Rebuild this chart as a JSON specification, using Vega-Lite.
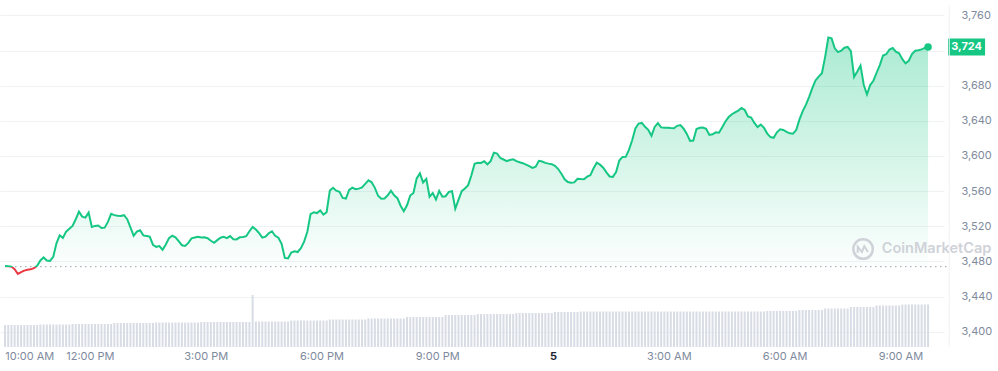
{
"$schema": "https://vega.github.io/schema/vega-lite/v6.json",
"width": 944,
"height": 342,
"autosize": {"type": "none"},
"padding": {"left": 0, "top": 5, "right": 54, "bottom": 24},
"background": "white",
"config": {"view": {"stroke": null}, "font": "Inter"},
"data": {"values": [
{"t":"2024-03-04T09:48","p":3474.7,"v":22},{"t":"2024-03-04T09:53","p":3474.4,"v":22},{"t":"2024-03-04T09:58","p":3474.1,"v":22},
{"t":"2024-03-04T10:03","p":3471.1,"v":22},{"t":"2024-03-04T10:08","p":3465.7,"v":22},{"t":"2024-03-04T10:13","p":3467.8,"v":22},{"t":"2024-03-04T10:18","p":3469.5,"v":22},{"t":"2024-03-04T10:23","p":3470.5,"v":22},{"t":"2024-03-04T10:28","p":3471,"v":22},{"t":"2024-03-04T10:33","p":3472.4,"v":22},{"t":"2024-03-04T10:38","p":3475,"v":22},{"t":"2024-03-04T10:43","p":3481.1,"v":22.5},{"t":"2024-03-04T10:48","p":3484.5,"v":22.5},{"t":"2024-03-04T10:53","p":3481,"v":22.5},{"t":"2024-03-04T10:58","p":3480.6,"v":22.5},
{"t":"2024-03-04T11:03","p":3485.2,"v":22.5},{"t":"2024-03-04T11:08","p":3500.6,"v":22.5},{"t":"2024-03-04T11:13","p":3509.7,"v":22.5},{"t":"2024-03-04T11:18","p":3506.8,"v":22.5},{"t":"2024-03-04T11:23","p":3513.9,"v":22.5},{"t":"2024-03-04T11:28","p":3517.1,"v":22.5},{"t":"2024-03-04T11:33","p":3520.4,"v":23},{"t":"2024-03-04T11:38","p":3528,"v":23},{"t":"2024-03-04T11:43","p":3536.6,"v":23},{"t":"2024-03-04T11:48","p":3531,"v":23},{"t":"2024-03-04T11:53","p":3529.8,"v":23},{"t":"2024-03-04T11:58","p":3535.5,"v":23},
{"t":"2024-03-04T12:03","p":3519.2,"v":23},{"t":"2024-03-04T12:08","p":3520.4,"v":23},{"t":"2024-03-04T12:13","p":3520.8,"v":23},{"t":"2024-03-04T12:18","p":3518.1,"v":23},{"t":"2024-03-04T12:23","p":3518.4,"v":23},{"t":"2024-03-04T12:28","p":3525,"v":23},{"t":"2024-03-04T12:33","p":3534.2,"v":23},{"t":"2024-03-04T12:38","p":3532.7,"v":24},{"t":"2024-03-04T12:43","p":3531.9,"v":24},{"t":"2024-03-04T12:48","p":3531.6,"v":24},{"t":"2024-03-04T12:53","p":3532.6,"v":24},{"t":"2024-03-04T12:58","p":3528,"v":24},
{"t":"2024-03-04T13:03","p":3518.8,"v":24},{"t":"2024-03-04T13:08","p":3509.2,"v":24},{"t":"2024-03-04T13:13","p":3513.9,"v":24},{"t":"2024-03-04T13:18","p":3515.5,"v":24},{"t":"2024-03-04T13:23","p":3509.6,"v":24},{"t":"2024-03-04T13:28","p":3509,"v":24},{"t":"2024-03-04T13:33","p":3508.2,"v":24},{"t":"2024-03-04T13:38","p":3499,"v":24},{"t":"2024-03-04T13:43","p":3496.6,"v":24.5},{"t":"2024-03-04T13:48","p":3497.4,"v":24.5},{"t":"2024-03-04T13:53","p":3493.3,"v":24.5},{"t":"2024-03-04T13:58","p":3499.2,"v":24.5},
{"t":"2024-03-04T14:03","p":3506.5,"v":24.5},{"t":"2024-03-04T14:08","p":3509.2,"v":24.5},{"t":"2024-03-04T14:13","p":3507.5,"v":24.5},{"t":"2024-03-04T14:18","p":3503,"v":24.5},{"t":"2024-03-04T14:23","p":3498.4,"v":24.5},{"t":"2024-03-04T14:28","p":3497.7,"v":24.5},{"t":"2024-03-04T14:33","p":3501.1,"v":24.5},{"t":"2024-03-04T14:38","p":3506.3,"v":24.5},{"t":"2024-03-04T14:43","p":3507.2,"v":24.5},{"t":"2024-03-04T14:48","p":3508,"v":24.5},{"t":"2024-03-04T14:53","p":3507.3,"v":25},{"t":"2024-03-04T14:58","p":3507.5,"v":25},
{"t":"2024-03-04T15:03","p":3506.4,"v":25},{"t":"2024-03-04T15:08","p":3503.5,"v":25},{"t":"2024-03-04T15:13","p":3501.1,"v":25},{"t":"2024-03-04T15:18","p":3504.2,"v":25},{"t":"2024-03-04T15:23","p":3506.9,"v":25},{"t":"2024-03-04T15:28","p":3508,"v":25},{"t":"2024-03-04T15:33","p":3506.5,"v":25},{"t":"2024-03-04T15:38","p":3508.8,"v":25},{"t":"2024-03-04T15:43","p":3505.3,"v":25},{"t":"2024-03-04T15:48","p":3505,"v":25},{"t":"2024-03-04T15:53","p":3507.4,"v":25},{"t":"2024-03-04T15:58","p":3507.7,"v":25},
{"t":"2024-03-04T16:03","p":3508.7,"v":25},{"t":"2024-03-04T16:08","p":3514.3,"v":25},{"t":"2024-03-04T16:13","p":3519.3,"v":52},{"t":"2024-03-04T16:18","p":3516.3,"v":25.5},{"t":"2024-03-04T16:23","p":3512.2,"v":25.5},{"t":"2024-03-04T16:28","p":3507.1,"v":25.5},{"t":"2024-03-04T16:33","p":3508.2,"v":25.5},{"t":"2024-03-04T16:38","p":3512.1,"v":25.5},{"t":"2024-03-04T16:43","p":3514.3,"v":25.5},{"t":"2024-03-04T16:48","p":3509.2,"v":25.5},{"t":"2024-03-04T16:53","p":3506.9,"v":25.5},{"t":"2024-03-04T16:58","p":3500,"v":25.5},
{"t":"2024-03-04T17:03","p":3484,"v":25.5},{"t":"2024-03-04T17:08","p":3483.5,"v":25.5},{"t":"2024-03-04T17:13","p":3490,"v":26.5},{"t":"2024-03-04T17:18","p":3491.6,"v":26.5},{"t":"2024-03-04T17:23","p":3490.7,"v":26.5},{"t":"2024-03-04T17:28","p":3495,"v":26.5},{"t":"2024-03-04T17:33","p":3502.5,"v":26.5},{"t":"2024-03-04T17:38","p":3513.8,"v":26.5},{"t":"2024-03-04T17:43","p":3533.9,"v":26.5},{"t":"2024-03-04T17:48","p":3536,"v":26.5},{"t":"2024-03-04T17:53","p":3535,"v":26.5},{"t":"2024-03-04T17:58","p":3538,"v":26.5},
{"t":"2024-03-04T18:03","p":3533.3,"v":26.5},{"t":"2024-03-04T18:08","p":3536,"v":26.5},{"t":"2024-03-04T18:13","p":3560.6,"v":27.5},{"t":"2024-03-04T18:18","p":3563.8,"v":27.5},{"t":"2024-03-04T18:23","p":3560.5,"v":27.5},{"t":"2024-03-04T18:28","p":3559.3,"v":27.5},{"t":"2024-03-04T18:33","p":3552.3,"v":27.5},{"t":"2024-03-04T18:38","p":3551.5,"v":27.5},{"t":"2024-03-04T18:43","p":3561.4,"v":27.5},{"t":"2024-03-04T18:48","p":3564,"v":27.5},{"t":"2024-03-04T18:53","p":3562.2,"v":27.5},{"t":"2024-03-04T18:58","p":3562.8,"v":27.5},
{"t":"2024-03-04T19:03","p":3564.2,"v":27.5},{"t":"2024-03-04T19:08","p":3568.3,"v":27.5},{"t":"2024-03-04T19:13","p":3572.4,"v":28.5},{"t":"2024-03-04T19:18","p":3570,"v":28.5},{"t":"2024-03-04T19:23","p":3563.7,"v":28.5},{"t":"2024-03-04T19:28","p":3554.7,"v":28.5},{"t":"2024-03-04T19:33","p":3551.4,"v":28.5},{"t":"2024-03-04T19:38","p":3551.6,"v":28.5},{"t":"2024-03-04T19:43","p":3555.3,"v":28.5},{"t":"2024-03-04T19:48","p":3560.4,"v":28.5},{"t":"2024-03-04T19:53","p":3555.3,"v":28.5},{"t":"2024-03-04T19:58","p":3552,"v":28.5},
{"t":"2024-03-04T20:03","p":3543.4,"v":28.5},{"t":"2024-03-04T20:08","p":3537.1,"v":28.5},{"t":"2024-03-04T20:13","p":3543.8,"v":30},{"t":"2024-03-04T20:18","p":3555,"v":30},{"t":"2024-03-04T20:23","p":3557.8,"v":30},{"t":"2024-03-04T20:28","p":3574.5,"v":30},{"t":"2024-03-04T20:33","p":3580.2,"v":30},{"t":"2024-03-04T20:38","p":3569.8,"v":30},{"t":"2024-03-04T20:43","p":3573.9,"v":30},{"t":"2024-03-04T20:48","p":3553.6,"v":30},{"t":"2024-03-04T20:53","p":3557.7,"v":30},{"t":"2024-03-04T20:58","p":3550.4,"v":30},
{"t":"2024-03-04T21:03","p":3560.2,"v":30},{"t":"2024-03-04T21:08","p":3553.7,"v":30},{"t":"2024-03-04T21:13","p":3554.2,"v":32},{"t":"2024-03-04T21:18","p":3559.1,"v":32},{"t":"2024-03-04T21:23","p":3560,"v":32},{"t":"2024-03-04T21:28","p":3540,"v":32},{"t":"2024-03-04T21:33","p":3550,"v":32},{"t":"2024-03-04T21:38","p":3560,"v":32},{"t":"2024-03-04T21:43","p":3563,"v":32},{"t":"2024-03-04T21:48","p":3566.8,"v":32},{"t":"2024-03-04T21:53","p":3577.7,"v":32},{"t":"2024-03-04T21:58","p":3591.1,"v":32},
{"t":"2024-03-04T22:03","p":3592.2,"v":33},{"t":"2024-03-04T22:08","p":3592,"v":33},{"t":"2024-03-04T22:13","p":3594,"v":33},{"t":"2024-03-04T22:18","p":3590.5,"v":33},{"t":"2024-03-04T22:23","p":3594.1,"v":33},{"t":"2024-03-04T22:28","p":3603.8,"v":33},{"t":"2024-03-04T22:33","p":3602.8,"v":33},{"t":"2024-03-04T22:38","p":3597.7,"v":33},{"t":"2024-03-04T22:43","p":3596,"v":33},{"t":"2024-03-04T22:48","p":3594.2,"v":33},{"t":"2024-03-04T22:53","p":3595.4,"v":33},{"t":"2024-03-04T22:58","p":3596.2,"v":33},
{"t":"2024-03-04T23:03","p":3594.2,"v":34},{"t":"2024-03-04T23:08","p":3592.8,"v":34},{"t":"2024-03-04T23:13","p":3591.8,"v":34},{"t":"2024-03-04T23:18","p":3590.2,"v":34},{"t":"2024-03-04T23:23","p":3588.4,"v":34},{"t":"2024-03-04T23:28","p":3586.4,"v":34},{"t":"2024-03-04T23:33","p":3587.7,"v":34},{"t":"2024-03-04T23:38","p":3594.4,"v":34},{"t":"2024-03-04T23:43","p":3593.7,"v":34},{"t":"2024-03-04T23:48","p":3592.1,"v":34},{"t":"2024-03-04T23:53","p":3591.3,"v":34},{"t":"2024-03-04T23:58","p":3590.6,"v":34},
{"t":"2024-03-05T00:03","p":3588.8,"v":35},{"t":"2024-03-05T00:08","p":3585.1,"v":35},{"t":"2024-03-05T00:13","p":3579.7,"v":35},{"t":"2024-03-05T00:18","p":3573.5,"v":35},{"t":"2024-03-05T00:23","p":3570.3,"v":35},{"t":"2024-03-05T00:28","p":3569.5,"v":35},{"t":"2024-03-05T00:33","p":3569.9,"v":35},{"t":"2024-03-05T00:38","p":3574,"v":35},{"t":"2024-03-05T00:43","p":3573.7,"v":35.5},{"t":"2024-03-05T00:48","p":3573.6,"v":35.5},{"t":"2024-03-05T00:53","p":3576.5,"v":35.5},{"t":"2024-03-05T00:58","p":3578,"v":35.5},
{"t":"2024-03-05T01:03","p":3586,"v":35.5},{"t":"2024-03-05T01:08","p":3592.3,"v":35.5},{"t":"2024-03-05T01:13","p":3590.1,"v":35.5},{"t":"2024-03-05T01:18","p":3586.7,"v":35.5},{"t":"2024-03-05T01:23","p":3581.3,"v":35.5},{"t":"2024-03-05T01:28","p":3576.7,"v":35.5},{"t":"2024-03-05T01:33","p":3576.2,"v":35.5},{"t":"2024-03-05T01:38","p":3581.6,"v":35.5},{"t":"2024-03-05T01:43","p":3594.8,"v":35.5},{"t":"2024-03-05T01:48","p":3598.9,"v":35.5},{"t":"2024-03-05T01:53","p":3599,"v":35.5},{"t":"2024-03-05T01:58","p":3606.9,"v":35.5},
{"t":"2024-03-05T02:03","p":3617.8,"v":35.5},{"t":"2024-03-05T02:08","p":3631.4,"v":35.5},{"t":"2024-03-05T02:13","p":3636.9,"v":35.5},{"t":"2024-03-05T02:18","p":3637.6,"v":35.5},{"t":"2024-03-05T02:23","p":3633.2,"v":35.5},{"t":"2024-03-05T02:28","p":3629.7,"v":35.5},{"t":"2024-03-05T02:33","p":3622.9,"v":35.5},{"t":"2024-03-05T02:38","p":3633,"v":35.5},{"t":"2024-03-05T02:43","p":3637.3,"v":35.5},{"t":"2024-03-05T02:48","p":3632.5,"v":35.5},{"t":"2024-03-05T02:53","p":3632.2,"v":35.5},{"t":"2024-03-05T02:58","p":3632.1,"v":35.5},
{"t":"2024-03-05T03:03","p":3631.7,"v":35.5},{"t":"2024-03-05T03:08","p":3631.5,"v":35.5},{"t":"2024-03-05T03:13","p":3634.3,"v":35.5},{"t":"2024-03-05T03:18","p":3635.1,"v":35.5},{"t":"2024-03-05T03:23","p":3631,"v":35.5},{"t":"2024-03-05T03:28","p":3625.1,"v":35.5},{"t":"2024-03-05T03:33","p":3617,"v":35.5},{"t":"2024-03-05T03:38","p":3617.5,"v":35.5},{"t":"2024-03-05T03:43","p":3630.6,"v":35.5},{"t":"2024-03-05T03:48","p":3632.1,"v":35.5},{"t":"2024-03-05T03:53","p":3632.4,"v":35.5},{"t":"2024-03-05T03:58","p":3631,"v":35.5},
{"t":"2024-03-05T04:03","p":3624,"v":35.5},{"t":"2024-03-05T04:08","p":3624.6,"v":35.5},{"t":"2024-03-05T04:13","p":3626.9,"v":35.5},{"t":"2024-03-05T04:18","p":3626.5,"v":35.5},{"t":"2024-03-05T04:23","p":3632.7,"v":35.5},{"t":"2024-03-05T04:28","p":3639.3,"v":35.5},{"t":"2024-03-05T04:33","p":3644.3,"v":35.5},{"t":"2024-03-05T04:38","p":3647.5,"v":35.5},{"t":"2024-03-05T04:43","p":3649.7,"v":35.5},{"t":"2024-03-05T04:48","p":3651.7,"v":35.5},{"t":"2024-03-05T04:53","p":3654.5,"v":35.5},{"t":"2024-03-05T04:58","p":3652.3,"v":35.5},
{"t":"2024-03-05T05:03","p":3644.9,"v":35.5},{"t":"2024-03-05T05:08","p":3643.8,"v":35.5},{"t":"2024-03-05T05:13","p":3637.6,"v":35.5},{"t":"2024-03-05T05:18","p":3632.8,"v":35.5},{"t":"2024-03-05T05:23","p":3635.8,"v":35.5},{"t":"2024-03-05T05:28","p":3631.9,"v":35.5},{"t":"2024-03-05T05:33","p":3625.5,"v":36},{"t":"2024-03-05T05:38","p":3621.5,"v":36},{"t":"2024-03-05T05:43","p":3620.7,"v":36},{"t":"2024-03-05T05:48","p":3626.9,"v":36},{"t":"2024-03-05T05:53","p":3630.4,"v":36},{"t":"2024-03-05T05:58","p":3629.6,"v":36},
{"t":"2024-03-05T06:03","p":3627.5,"v":36},{"t":"2024-03-05T06:08","p":3625.8,"v":36},{"t":"2024-03-05T06:13","p":3625.3,"v":36},{"t":"2024-03-05T06:18","p":3629.5,"v":36},{"t":"2024-03-05T06:23","p":3641.4,"v":37},{"t":"2024-03-05T06:28","p":3650.8,"v":37},{"t":"2024-03-05T06:33","p":3658.2,"v":37},{"t":"2024-03-05T06:38","p":3667,"v":37},{"t":"2024-03-05T06:43","p":3677.1,"v":37},{"t":"2024-03-05T06:48","p":3685.9,"v":37},{"t":"2024-03-05T06:53","p":3690.3,"v":37},{"t":"2024-03-05T06:58","p":3694.2,"v":37},
{"t":"2024-03-05T07:03","p":3712.8,"v":38.5},{"t":"2024-03-05T07:08","p":3734.7,"v":38.5},{"t":"2024-03-05T07:13","p":3733.8,"v":38.5},{"t":"2024-03-05T07:18","p":3722.5,"v":38.5},{"t":"2024-03-05T07:23","p":3718.2,"v":38.5},{"t":"2024-03-05T07:28","p":3719.8,"v":38.5},{"t":"2024-03-05T07:33","p":3723.2,"v":38.5},{"t":"2024-03-05T07:38","p":3724.1,"v":38.5},{"t":"2024-03-05T07:43","p":3719.2,"v":40},{"t":"2024-03-05T07:48","p":3690,"v":40},{"t":"2024-03-05T07:53","p":3696.1,"v":40},{"t":"2024-03-05T07:58","p":3703,"v":40},
{"t":"2024-03-05T08:03","p":3681,"v":40},{"t":"2024-03-05T08:08","p":3670,"v":40},{"t":"2024-03-05T08:13","p":3680.7,"v":40},{"t":"2024-03-05T08:18","p":3685.6,"v":40},{"t":"2024-03-05T08:23","p":3694.7,"v":41.5},{"t":"2024-03-05T08:28","p":3703.4,"v":41.5},{"t":"2024-03-05T08:33","p":3714.3,"v":41.5},{"t":"2024-03-05T08:38","p":3715.8,"v":41.5},{"t":"2024-03-05T08:43","p":3721.2,"v":41.5},{"t":"2024-03-05T08:48","p":3722.8,"v":41.5},{"t":"2024-03-05T08:53","p":3718.6,"v":41.5},{"t":"2024-03-05T08:58","p":3716.8,"v":41.5},
{"t":"2024-03-05T09:03","p":3710.2,"v":42.5},{"t":"2024-03-05T09:08","p":3705.4,"v":42.5},{"t":"2024-03-05T09:13","p":3708.3,"v":42.5},{"t":"2024-03-05T09:18","p":3715.9,"v":42.5},{"t":"2024-03-05T09:23","p":3719.7,"v":42.5},{"t":"2024-03-05T09:28","p":3720.3,"v":42.5},{"t":"2024-03-05T09:33","p":3721.3,"v":42.5},{"t":"2024-03-05T09:38","p":3723,"v":42.5},{"t":"2024-03-05T09:43","p":3724,"v":42.5}
]},
"encoding": {
  "x": {
    "field": "t", "type": "temporal",
    "scale": {"domain": [{"year": 2024, "month": 3, "date": 4, "hours": 9, "minutes": 48}, {"year": 2024, "month": 3, "date": 5, "hours": 10, "minutes": 0}]},
    "axis": {
      "title": null, "domain": false, "ticks": false, "grid": false,
      "values": [
        {"year": 2024, "month": 3, "date": 4, "hours": 10},
        {"year": 2024, "month": 3, "date": 4, "hours": 12},
        {"year": 2024, "month": 3, "date": 4, "hours": 15},
        {"year": 2024, "month": 3, "date": 4, "hours": 18},
        {"year": 2024, "month": 3, "date": 4, "hours": 21},
        {"year": 2024, "month": 3, "date": 5, "hours": 0},
        {"year": 2024, "month": 3, "date": 5, "hours": 3},
        {"year": 2024, "month": 3, "date": 5, "hours": 6},
        {"year": 2024, "month": 3, "date": 5, "hours": 9}
      ],
      "labelExpr": "hours(datum.value) == 0 ? timeFormat(datum.value, '%-d') : timeFormat(datum.value, '%-I:%M %p')",
      "labelFontSize": 11,
      "labelColor": {"condition": {"test": "hours(datum.value) == 0", "value": "#222531"}, "value": "#808a9d"},
      "labelFontWeight": {"condition": {"test": "hours(datum.value) == 0", "value": "bold"}, "value": "normal"},
      "labelAlign": {"condition": {"test": "hours(datum.value) == 10", "value": "left"}, "value": "center"},
      "labelOffset": {"condition": {"test": "hours(datum.value) == 10", "value": -8}, "value": 0},
      "labelPadding": 3,
      "labelOverlap": false
    }
  }
},
"layer": [
  {
    "mark": {"type": "bar", "width": 2, "color": "#d8dce5"},
    "encoding": {
      "y": {"field": "v", "type": "quantitative", "scale": {"domain": [0, 342]}, "axis": null}
    }
  },
  {
    "encoding": {
      "y": {
        "field": "p", "type": "quantitative",
        "scale": {"domain": [3382.6, 3771.8], "nice": false, "zero": false},
        "axis": {
          "orient": "right", "title": null, "domain": false, "ticks": false,
          "grid": true, "gridColor": "#eff2f5", "gridWidth": 1,
          "values": [3400, 3440, 3480, 3520, 3560, 3600, 3640, 3680, 3720, 3760],
          "labelExpr": "datum.value == 3720 ? '' : format(datum.value, ',')",
          "labelPadding": 17, "labelFontSize": 11, "labelColor": "#808a9d", "labelAlign": "left"
        }
      }
    },
    "layer": [
      {
        "mark": {
          "type": "area",
          "color": {"gradient": "linear", "x1": 0, "y1": 0, "x2": 0, "y2": 1,
            "stops": [{"offset": 0, "color": "rgba(22,199,132,0.36)"}, {"offset": 1, "color": "rgba(22,199,132,0)"}]}
        },
        "encoding": {"y2": {"datum": 3474}}
      },
      {
        "transform": [{"filter": "time(datum.t) == time(datetime(2024, 2, 5, 9, 43))"}],
        "mark": {"type": "rule", "color": "#9aa1ad", "strokeDash": [1.5, 3.5], "strokeWidth": 1},
        "encoding": {
          "y": {"datum": 3474},
          "x": {"datum": {"year": 2024, "month": 3, "date": 4, "hours": 9, "minutes": 48}, "type": "temporal"},
          "x2": {"datum": {"year": 2024, "month": 3, "date": 5, "hours": 10, "minutes": 14}}
        }
      },
      {
        "mark": {
          "type": "line", "strokeWidth": 2,
          "stroke": {"gradient": "linear", "x1": 0, "y1": 0, "x2": 0, "y2": 1,
            "stops": [{"offset": 0, "color": "#16c784"}, {"offset": 0.969, "color": "#16c784"}, {"offset": 0.969, "color": "#ea3943"}, {"offset": 1, "color": "#ea3943"}]}
        }
      },
      {
        "transform": [{"filter": "time(datum.t) == time(datetime(2024, 2, 5, 9, 43))"}],
        "mark": {"type": "point", "filled": true, "color": "#16c784", "size": 56, "opacity": 1}
      },
      {
        "transform": [{"filter": "time(datum.t) == time(datetime(2024, 2, 5, 9, 43))"}],
        "mark": {"type": "point", "filled": true, "color": "#16c784", "opacity": 1, "size": 400, "shape": "M2,-0.85H5.7V0.85H2Z"}
      },
      {
        "transform": [{"filter": "time(datum.t) == time(datetime(2024, 2, 5, 9, 43))"}],
        "mark": {"type": "text", "color": "white", "fontWeight": "bold", "fontSize": 11, "align": "center", "baseline": "middle", "dx": 38.5},
        "encoding": {"text": {"field": "p", "type": "quantitative", "format": ",.0f"}}
      },
      {
        "transform": [{"filter": "time(datum.t) == time(datetime(2024, 2, 5, 9, 43))"}],
        "mark": {"type": "point", "shape": "circle", "size": 380, "filled": false, "stroke": "#cfd2d8", "strokeWidth": 2.5, "opacity": 1},
        "encoding": {
          "x": {"datum": {"year": 2024, "month": 3, "date": 5, "hours": 8, "minutes": 2}, "type": "temporal"},
          "y": {"datum": 3494}
        }
      },
      {
        "transform": [{"filter": "time(datum.t) == time(datetime(2024, 2, 5, 9, 43))"}],
        "mark": {"type": "point", "shape": "M-0.55,0.4L-0.55,-0.25L-0.12,0.3L0.12,-0.3L0.5,0.3", "size": 380, "filled": false, "stroke": "#cfd2d8", "strokeWidth": 2, "opacity": 1},
        "encoding": {
          "x": {"datum": {"year": 2024, "month": 3, "date": 5, "hours": 8, "minutes": 2}, "type": "temporal"},
          "y": {"datum": 3494}
        }
      },
      {
        "transform": [{"filter": "time(datum.t) == time(datetime(2024, 2, 5, 9, 43))"}],
        "mark": {"type": "text", "text": "CoinMarketCap", "align": "left", "baseline": "middle", "fontSize": 14.5, "fontWeight": 600, "color": "#cfd2d8"},
        "encoding": {
          "x": {"datum": {"year": 2024, "month": 3, "date": 5, "hours": 8, "minutes": 31}, "type": "temporal"},
          "y": {"datum": 3494}
        }
      },
      {
        "transform": [{"filter": "time(datum.t) == time(datetime(2024, 2, 5, 9, 43))"}],
        "mark": {"type": "rule", "color": "#f0f1f4", "strokeWidth": 1},
        "encoding": {
          "x": {"datum": {"year": 2024, "month": 3, "date": 5, "hours": 10, "minutes": 16}, "type": "temporal"},
          "y": {"datum": 3382.6},
          "y2": {"datum": 3771.8}
        }
      }
    ]
  }
],
"resolve": {"scale": {"y": "independent"}}
}
